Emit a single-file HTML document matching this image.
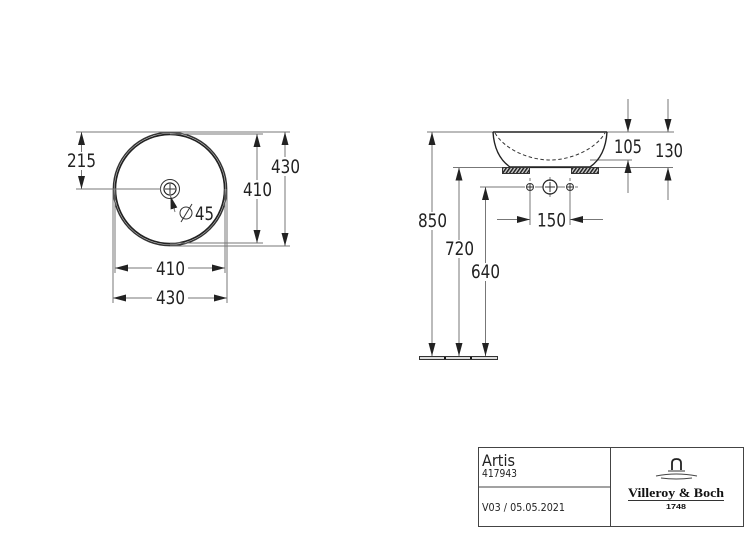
<!DOCTYPE html>
<html><head><meta charset="utf-8"><style>
html,body{margin:0;padding:0;background:#fff}
svg{display:block}
text{font-family:"DejaVu Sans","Liberation Sans",sans-serif;fill:#222}
.d{font-size:18.500px}
.l{stroke:#777;stroke-width:1;fill:none}
.k{stroke:#333;stroke-width:1;fill:none}
</style></head><body>
<svg width="750" height="538" viewBox="0 0 750 538" xmlns="http://www.w3.org/2000/svg">
<defs>
<marker id="a" markerUnits="userSpaceOnUse" viewBox="0 0 13 7" markerWidth="13" markerHeight="7" refX="13" refY="3.500" orient="auto"><path d="M0 0L13 3.500L0 7Z" fill="#222"/></marker>
<pattern id="h" width="3.500" height="6" patternUnits="userSpaceOnUse" patternTransform="skewX(-35)"><rect width="3.500" height="6" fill="#ccc"/><rect width="1.800" height="6" fill="#222"/></pattern>
</defs>

<!-- Left view -->
<circle cx="170" cy="189" r="56.600" fill="none" stroke="#333" stroke-width="1.500"/>
<circle cx="170" cy="189" r="54.600" fill="none" stroke="#222" stroke-width="1.700"/>
<circle cx="170" cy="189" r="9.500" class="k"/>
<circle cx="170" cy="189" r="6" fill="none" stroke="#222" stroke-width="1.200"/>
<path class="k" d="M165 189H175M170 184V194"/>

<path class="l" d="M76 132H290M170 246H290M170 134H263M170 243H263M76 189H161"/>
<path class="l" d="M113 189V303M227 189V303M115 189V273M225 189V273"/>
<path class="l" d="M81.500 152V132" marker-end="url(#a)"/>
<path class="l" d="M81.500 170V189" marker-end="url(#a)"/>
<path class="l" d="M257 180V134" marker-end="url(#a)"/>
<path class="l" d="M257 199V243" marker-end="url(#a)"/>
<path class="l" d="M285 157V132" marker-end="url(#a)"/>
<path class="l" d="M285 176V246" marker-end="url(#a)"/>
<path class="l" d="M152 268H115" marker-end="url(#a)"/>
<path class="l" d="M188 268H225" marker-end="url(#a)"/>
<path class="l" d="M152 298H113" marker-end="url(#a)"/>
<path class="l" d="M188 298H227" marker-end="url(#a)"/>
<path class="l" d="M175 212L170.500 196" marker-end="url(#a)"/>

<text class="d" x="67" y="167" textLength="29" lengthAdjust="spacingAndGlyphs">215</text>
<text class="d" x="271" y="173" textLength="29" lengthAdjust="spacingAndGlyphs">430</text>
<text class="d" x="243" y="196" textLength="29" lengthAdjust="spacingAndGlyphs">410</text>
<text class="d" x="156" y="275" textLength="29" lengthAdjust="spacingAndGlyphs">410</text>
<text class="d" x="156" y="304" textLength="29" lengthAdjust="spacingAndGlyphs">430</text>
<text class="d" x="195" y="220" textLength="19" lengthAdjust="spacingAndGlyphs">45</text>
<circle cx="186" cy="213" r="6" fill="none" stroke="#333" stroke-width="1"/>
<path class="k" d="M181 222L192 204"/>

<!-- Right view -->
<path class="l" d="M427 132H674M453 167.500H673M590 160H632"/>
<path d="M493 132H607" stroke="#222" stroke-width="1.500" fill="none"/>
<path d="M493 132C494 148 500 160 510 167H590C600 160 606 148 607 132" stroke="#222" stroke-width="1.400" fill="none"/>
<path d="M510 167.500H590" stroke="#222" stroke-width="1.300"/>
<path d="M495 133C505 150 530 160 550 160C570 160 595 150 605 133" stroke="#333" stroke-width="1" stroke-dasharray="3.500 2.500" fill="none"/>
<rect x="502.500" y="167.500" width="27" height="6" fill="url(#h)" stroke="#333" stroke-width="1"/>
<rect x="571.500" y="167.500" width="27" height="6" fill="url(#h)" stroke="#333" stroke-width="1"/>

<path class="l" d="M480 187H525M535 187H543M557 187H565M575 187H578M550 177V181M550 193V197"/>
<circle cx="550" cy="187" r="7" fill="none" stroke="#222" stroke-width="1.200"/>
<path class="k" d="M545 187H555M550 182V192"/>
<circle cx="530" cy="187" r="3.500" class="k"/><path class="k" d="M526.500 187H533.500M530 183.500V190.500"/>
<circle cx="570" cy="187" r="3.500" class="k"/><path class="k" d="M566.500 187H573.500M570 183.500V190.500"/>
<path class="l" d="M530 178V181M530 191V225M570 178V181M570 191V225"/>
<path class="l" d="M497 219.500H530" marker-end="url(#a)"/>
<path class="l" d="M603 219.500H570" marker-end="url(#a)"/>

<path class="l" d="M628 99V132" marker-end="url(#a)"/>
<path class="l" d="M628 193V160" marker-end="url(#a)"/>
<path class="l" d="M668 99V132" marker-end="url(#a)"/>
<path class="l" d="M668 200V167.500" marker-end="url(#a)"/>

<path class="l" d="M432 212V132" marker-end="url(#a)"/>
<path class="l" d="M432 230V356" marker-end="url(#a)"/>
<path class="l" d="M459 240V167.500" marker-end="url(#a)"/>
<path class="l" d="M459 258V356" marker-end="url(#a)"/>
<path class="l" d="M485.500 263V187" marker-end="url(#a)"/>
<path class="l" d="M485.500 281V356" marker-end="url(#a)"/>

<rect x="419.500" y="356.500" width="78" height="3" fill="#ddd" stroke="#333" stroke-width="1"/>
<path d="M445 357v2M471 357v2" stroke="#111" stroke-width="2"/>

<text class="d" x="418" y="227" textLength="29" lengthAdjust="spacingAndGlyphs">850</text>
<text class="d" x="445" y="255" textLength="29" lengthAdjust="spacingAndGlyphs">720</text>
<text class="d" x="471" y="278" textLength="29" lengthAdjust="spacingAndGlyphs">640</text>
<text class="d" x="537" y="226.500" textLength="29" lengthAdjust="spacingAndGlyphs">150</text>
<text class="d" x="614" y="153" textLength="28" lengthAdjust="spacingAndGlyphs">105</text>
<text class="d" x="655" y="157" textLength="28" lengthAdjust="spacingAndGlyphs">130</text>

<!-- Title block -->
<rect x="478.500" y="447.500" width="265" height="79" fill="none" stroke="#444" stroke-width="1"/>
<path d="M610.500 447V527M478 487H610" stroke="#444" stroke-width="1"/>
<text x="482" y="466" font-size="16" textLength="33" lengthAdjust="spacingAndGlyphs">Artis</text>
<text x="482" y="477" font-size="10.500" textLength="35" lengthAdjust="spacingAndGlyphs">417943</text>
<text x="482" y="511" font-size="11" textLength="83" lengthAdjust="spacingAndGlyphs">V03 / 05.05.2021</text>

<!-- Logo -->
<path d="M672 470V463Q672 459 676.500 459Q681 459 681 463V470" fill="none" stroke="#222" stroke-width="1.800"/>
<path d="M668 471H685" stroke="#333" stroke-width="1"/>
<path d="M656 476Q676 472 697 476" fill="none" stroke="#444" stroke-width="1"/>
<path d="M661 478Q676 480 692 478" fill="none" stroke="#444" stroke-width="1"/>
<text x="628" y="497" font-size="13" font-weight="bold" textLength="96" lengthAdjust="spacingAndGlyphs" style='font-family:"Liberation Serif",serif;fill:#111'>Villeroy &amp; Boch</text>
<path d="M628 500.500H724" stroke="#333" stroke-width="1"/>
<text x="666" y="509" font-size="7" font-weight="bold" textLength="20" lengthAdjust="spacingAndGlyphs" style='font-family:"Liberation Sans",sans-serif;fill:#111'>1748</text>
</svg>
</body></html>
